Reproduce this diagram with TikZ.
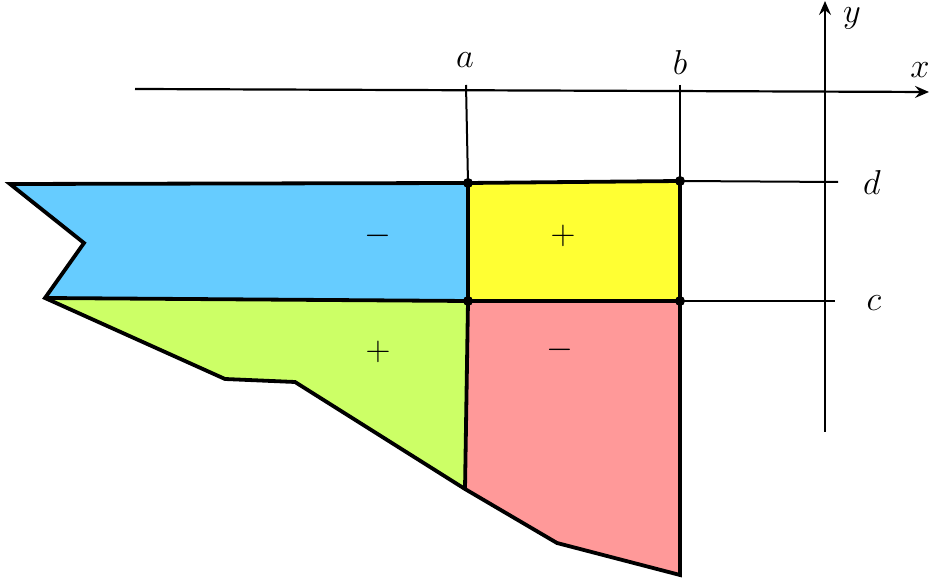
\documentclass[tikz,border=0pt]{standalone}
\usetikzlibrary{arrows.meta}
\begin{document}
\begin{tikzpicture}[x=0.5pt,y=-0.5pt,
  thick line/.style={line width=1.9pt,line join=miter},
  thin line/.style={line width=1pt},
  dot/.style={circle,fill=black,inner sep=0pt,minimum size=5pt},
  lab/.style={font=\fontsize{16}{19}\selectfont,inner sep=1pt},
  axisarrow/.style={line width=1.1pt,-{Stealth[length=7pt,width=6pt,inset=2.5pt]}}]
\useasboundingbox (0,0) rectangle (930,581);
\definecolor{cblue}{RGB}{102,204,255}
\definecolor{cyellow}{RGB}{255,255,51}
\definecolor{cgreen}{RGB}{204,255,102}
\definecolor{cpink}{RGB}{255,153,153}
% vertices
\coordinate (A1) at (468,183);
\coordinate (B1) at (680,181);
\coordinate (A0) at (468,301);
\coordinate (B0) at (680,301);
\coordinate (L1) at (10,184);
\coordinate (L2) at (84,243);
\coordinate (L3) at (45,298);
\coordinate (G1) at (225,379);
\coordinate (G2) at (295,382);
\coordinate (G3) at (465,489);
\coordinate (P1) at (557,543);
\coordinate (P2) at (680,575);
% fills
\fill[cblue] (L1) -- (A1) -- (A0) -- (L3) -- (L2) -- cycle;
\fill[cyellow] (A1) -- (B1) -- (B0) -- (A0) -- cycle;
\fill[cgreen] (L3) -- (A0) -- (G3) -- (G2) -- (G1) -- cycle;
\fill[cpink] (A0) -- (B0) -- (P2) -- (P1) -- (G3) -- cycle;
% axes
\coordinate (xs) at (135,89);
\coordinate (xe) at (929,92);
\coordinate (ys) at (825,432);
\coordinate (ye) at (825,1);
\draw[axisarrow] (xs) -- (xe);
\draw[axisarrow] (ys) -- (ye);
\node[lab] (xl) at (920,70) {$x$};
\node[lab] (yl) at (852,18) {$y$};
% guide lines
\coordinate (at) at (466,85);
\coordinate (bt) at (680,85);
\coordinate (de) at (838,182);
\coordinate (ce) at (835,301);
\draw[thin line] (at) -- (A1);
\draw[thin line] (bt) -- (B1);
\draw[thin line] (B1) -- (de);
\draw[thin line] (B0) -- (ce);
\node[lab] (al) at (465,60) {$a$};
\node[lab] (bl) at (680,63) {$b$};
\node[lab] (dl) at (872,183) {$d$};
\node[lab] (cl) at (874,303) {$c$};
% outlines
\draw[thick line] (L1) -- (A1) -- (B1) -- (B0) -- (P2) -- (P1) -- (G3) -- (G2) -- (G1) -- (L3) -- (L2) -- cycle;
\draw[thick line] (L3) -- (A0) -- (B0);
\draw[thick line] (A1) -- (A0) -- (G3);
% dots
\node[dot] (d1) at (A1) {};
\node[dot] (d2) at (B1) {};
\node[dot] (d3) at (A0) {};
\node[dot] (d4) at (B0) {};
% signs
\node[lab] (s1) at (378,236) {$-$};
\node[lab] (s2) at (563,236) {$+$};
\node[lab] (s3) at (378,352) {$+$};
\node[lab] (s4) at (560,350) {$-$};
\end{tikzpicture}
\end{document}
